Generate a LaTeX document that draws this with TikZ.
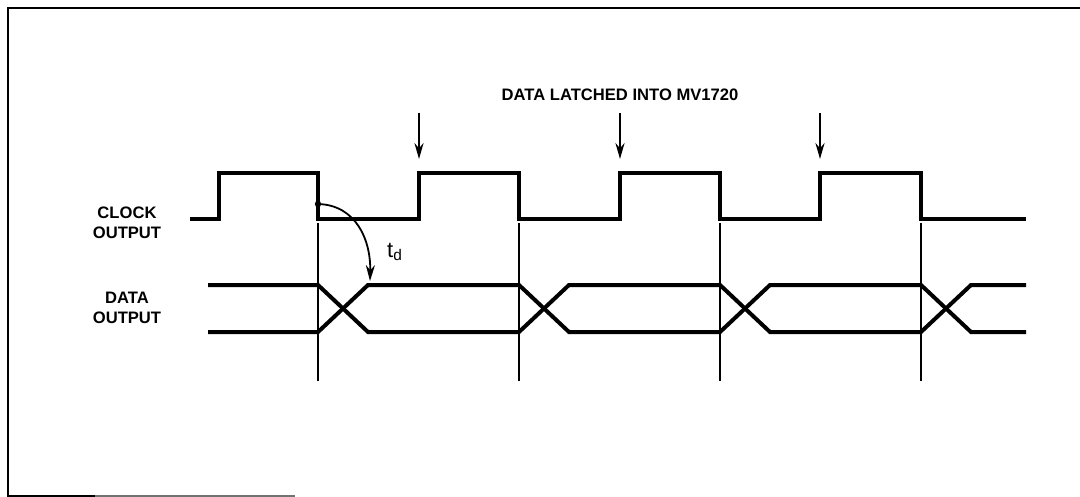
\documentclass[tikz,border=0pt]{standalone}
\usepackage{fontspec}
\setmainfont{Liberation Sans}
\usetikzlibrary{arrows.meta,positioning}
\tikzset{
  >={Stealth[length=2.8mm,width=1.6mm]},
  % signale
  sig/.style={draw=black,line width=2pt,line join=miter},
  guide/.style={draw=black,line width=0.9pt},
  latch/.style={->,draw=black,line width=0.9pt},
  delay/.style={->,draw=black,line width=0.9pt},
  lbl/.style={font=\bfseries\fontsize{8.3}{10}\selectfont,align=center,inner sep=0pt},
  tdl/.style={font=\fontsize{11}{12}\selectfont,inner sep=0pt},
  frame/.style={draw=black,line width=1.1pt},
}
\begin{document}
\begin{tikzpicture}[x=0.5pt,y=-0.5pt]
  \useasboundingbox (0,0) rectangle (1080,497);
  % ram
  \draw[frame] (1080,8) -- (8,8) -- (8,496) -- (95,496);
  \draw[frame,draw=black!55] (95,496) -- (295,496);
  % texter
  \node[lbl] (clk) at (127,223) {CLOCK\\OUTPUT};
  \node[lbl] (dat) at (127,308) {DATA\\OUTPUT};
  \node[lbl] (latched) at (620,95) {DATA LATCHED INTO MV1720};
  \node[tdl] (td) at (395,252) {t\textsubscript{d}};
  % klocka
  \draw[sig] (190,219) -| (219,173) -| (318,219) -| (419,173) -| (519,219)
    -| (620,173) -| (720,219) -| (820,173) -| (921,219) -- (1026,219);
  % data
  \draw[sig] (208,285) -- (318,285) -- (368,332) -- (519,332) -- (569,285)
    -- (720,285) -- (770,332) -- (921,332) -- (971,285) -- (1026,285);
  \draw[sig] (208,332) -- (318,332) -- (368,285) -- (519,285) -- (569,332)
    -- (720,332) -- (770,285) -- (921,285) -- (971,332) -- (1026,332);
  % hjälplinjer och pilar
  \foreach \x in {318,519,720,921}
    \draw[guide] (\x,223) -- (\x,381);
  \foreach \x/\n in {419/a,620/b,820/c} {
    \coordinate (top\n) at (\x,113);
    \coordinate (tip\n) at (\x,159);
    \draw[latch] (top\n) -- (tip\n);
  }
  \coordinate (fall) at (318,204);
  \coordinate (cross) at (370,281);
  \fill (fall) circle (3.2);
  \draw[delay] (fall) .. controls (356,205) and (371,240) .. (cross);
\end{tikzpicture}
\end{document}
